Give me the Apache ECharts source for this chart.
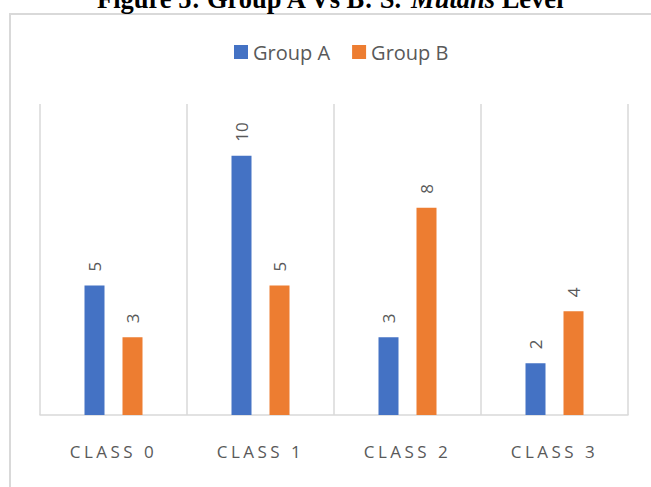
<!DOCTYPE html>
<html>
<head>
<meta charset="utf-8">
<script src="https://cdn.jsdelivr.net/npm/echarts@6/dist/echarts.min.js"></script>
<style>
  html, body { margin: 0; padding: 0; background: #fff; }
  #chart { width: 651px; height: 487px; }
</style>
</head>
<body>
<div id="chart"></div>
<script>
// data
var categories = ["CLASS 0", "CLASS 1", "CLASS 2", "CLASS 3"];
var groupA = [5, 10, 3, 2];
var groupB = [3, 5, 8, 4];
var seriesNames = ["Group A", "Group B"];

var textColor = "#595959";
var gridColor = "#d9d9d9";

var chart = echarts.init(document.getElementById("chart"), null, { renderer: "svg" });

var barLabel = {
  show: true,
  position: "top",
  rotate: 90,
  align: "left",
  verticalAlign: "middle",
  distance: 14,
  color: textColor,
  fontSize: 17,
  fontFamily: "Open Sans",
};

chart.setOption({
  animation: false,
  color: ["#4472C4", "#ED7D31"],
  title: {
    text: "{b|Figure 5: Group A Vs B: S. }{i|Mutans}{b| Level}",
    left: 92,
    top: -20,
    textStyle: {
      rich: {
        b: { fontFamily: "Liberation Serif", fontWeight: "bold", fontSize: 26.5, color: "#000" },
        i: { fontFamily: "Liberation Serif", fontWeight: "bold", fontStyle: "italic", fontSize: 26.5, color: "#000" },
      },
    },
  },
  graphic: [
    {
      type: "rect",
      shape: { x: 10, y: 14, width: 700, height: 600 },
      style: { fill: "none", stroke: gridColor, lineWidth: 2 },
      silent: true,
    },
  ],
  legend: {
    left: 229,
    top: 37,
    itemWidth: 14,
    itemHeight: 14,
    itemGap: 22,
    icon: "rect",
    data: seriesNames,
    textStyle: { color: textColor, fontSize: 20, fontFamily: "Open Sans" },
  },
  grid: { left: 40, right: 23, top: 104, bottom: 72 },
  xAxis: {
    type: "category",
    data: categories,
    axisLine: { lineStyle: { color: gridColor, width: 1.5 } },
    axisTick: { show: false },
    splitLine: { show: true, lineStyle: { color: gridColor, width: 1.5 } },
    axisLabel: { color: textColor, fontSize: 17, fontFamily: "Open Sans", margin: 28 },
  },
  yAxis: {
    type: "value",
    min: 0,
    max: 12,
    show: false,
    splitLine: { show: false },
  },
  series: [
    { name: seriesNames[0], type: "bar", data: groupA, barWidth: 20, barGap: "90%", label: barLabel },
    { name: seriesNames[1], type: "bar", data: groupB, barWidth: 20, barGap: "90%", label: barLabel },
  ],
});

// spread the category labels like the original
function spreadLabels() {
  var texts = document.querySelectorAll("#chart svg text");
  texts.forEach(function (t) {
    if (/^CLASS/.test(t.textContent)) {
      t.style.letterSpacing = "3.5px";
    }
  });
}
spreadLabels();
chart.on("finished", spreadLabels);
</script>
</body>
</html>
